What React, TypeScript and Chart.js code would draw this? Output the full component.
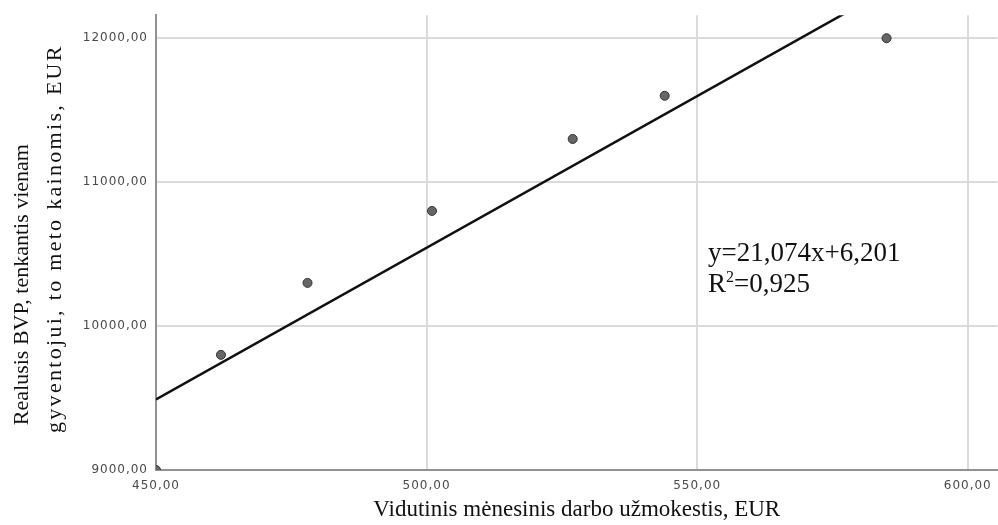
import React, { useEffect, useRef } from "react";
import { Chart, registerables } from "chart.js";

Chart.register(...registerables);

// Observed data (X: average monthly wage, EUR; Y: real GDP per capita, EUR)
const wageX = [450, 462, 478, 501, 527, 544, 585];
const gdpY = [9000, 9800, 10300, 10800, 11300, 11600, 12000];

// Fitted regression line (at both ends)
const fitX = [450, 580];
const fitY = [9490, 12230];

// Axis ranges and tick values
const xMin = 450;
const xMax = 605.5;
const xTicks = [450, 500, 550, 600];
const yMin = 9000;
const yMax = 12160;
const yTicks = [9000, 10000, 11000, 12000];

const xTitle = "Vidutinis mėnesinis darbo užmokestis, EUR";
const yTitleLines = ["Realusis BVP, tenkantis vienam", "gyventojui, to meto kainomis, EUR"];
const eqText = "y=21,074x+6,201";
const r2Value = "=0,925";
// annotation anchor (data coordinates)
const annX = 552;
const annY = 10450;

const fmt = (v: number) => v.toFixed(2).replace(".", ",");

const SERIF = "'Liberation Serif', 'Times New Roman', serif";
const SANS = "'DejaVu Sans', Verdana, sans-serif";

const spacingPlugin = {
  id: "tickSpacing",
  beforeDraw(chart: any) {
    (chart.ctx as any).letterSpacing = "1px";
  },
  afterDatasetsDraw(chart: any) {
    (chart.ctx as any).letterSpacing = "0px";
  },
};

const textPlugin = {
  id: "customText",
  afterDraw(chart: any) {
    const ctx = chart.ctx;
    const xs = chart.scales.x;
    const ys = chart.scales.y;
    const area = chart.chartArea;
    ctx.save();
    (ctx as any).letterSpacing = "0px";
    ctx.fillStyle = "#111";
    // X title
    ctx.font = `23px ${SERIF}`;
    ctx.textAlign = "center";
    ctx.textBaseline = "middle";
    ctx.fillText(xTitle, (area.left + area.right) / 2, 510);
    // Y title, two rotated lines
    ctx.font = `22px ${SERIF}`;
    const midY = (area.top + area.bottom) / 2;
    const cols = [22, 55];
    const centers = [midY + 42, midY - 4];
    const spacing = ["0px", "2.3px"];
    yTitleLines.forEach((t, i) => {
      ctx.save();
      (ctx as any).letterSpacing = spacing[i];
      ctx.translate(cols[i], centers[i]);
      ctx.rotate(-Math.PI / 2);
      ctx.fillText(t, 0, 0);
      ctx.restore();
    });
    // Equation annotation
    const ax = xs.getPixelForValue(annX);
    const ay = ys.getPixelForValue(annY);
    ctx.textAlign = "left";
    ctx.textBaseline = "alphabetic";
    ctx.font = `27px ${SERIF}`;
    ctx.fillText(eqText, ax, ay);
    const y2 = ay + 31;
    ctx.fillText("R", ax, y2);
    const rw = ctx.measureText("R").width;
    ctx.font = `16px ${SERIF}`;
    ctx.fillText("2", ax + rw, y2 - 10);
    const sw = ctx.measureText("2").width;
    ctx.font = `27px ${SERIF}`;
    ctx.fillText(r2Value, ax + rw + sw, y2);
    ctx.restore();
  },
};

export default function App() {
  const ref = useRef<HTMLCanvasElement | null>(null);
  useEffect(() => {
    document.body.style.margin = "0";
    const canvas = ref.current;
    if (!canvas) return;
    const chart = new Chart(canvas, {
      type: "scatter",
      data: {
        datasets: [
          {
            label: "fit",
            data: fitX.map((x, i) => ({ x, y: fitY[i] })),
            showLine: true,
            borderColor: "#111",
            borderWidth: 2.5,
            pointRadius: 0,
            clip: 0,
            order: 2,
          } as any,
          {
            label: "obs",
            data: wageX.map((x, i) => ({ x, y: gdpY[i] })),
            pointRadius: 4.5,
            pointBackgroundColor: "#666666",
            pointBorderColor: "#333333",
            pointBorderWidth: 1,
            clip: 0,
            order: 1,
          } as any,
        ],
      },
      options: {
        responsive: false,
        animation: false,
        events: [],
        layout: { padding: { top: 15, right: 0, left: 0, bottom: 0 } },
        plugins: {
          legend: { display: false },
          tooltip: { enabled: false },
        },
        scales: {
          x: {
            type: "linear",
            min: xMin,
            max: xMax,
            afterFit(scale: any) {
              scale.height = 55;
            },
            afterBuildTicks(scale: any) {
              scale.ticks = xTicks.map((value) => ({ value }));
            },
            ticks: {
              callback: (v: any) => fmt(Number(v)),
              font: { family: SANS, size: 12 },
              color: "#4a4a4a",
              padding: 9,
              maxRotation: 0,
              autoSkip: false,
            },
            grid: {
              drawTicks: false,
              lineWidth: 2,
              color: (c: any) => (c.tick && c.tick.value === xMin ? "rgba(0,0,0,0)" : "#dadada"),
            },
            border: { color: "#919191", width: 2 },
          },
          y: {
            type: "linear",
            min: yMin,
            max: yMax,
            afterFit(scale: any) {
              scale.width = 156;
            },
            afterBuildTicks(scale: any) {
              scale.ticks = yTicks.map((value) => ({ value }));
            },
            ticks: {
              callback: (v: any) => fmt(Number(v)),
              font: { family: SANS, size: 12 },
              color: "#4a4a4a",
              padding: 8,
              autoSkip: false,
            },
            grid: {
              drawTicks: false,
              lineWidth: 2,
              color: (c: any) => (c.tick && c.tick.value === yMin ? "rgba(0,0,0,0)" : "#dadada"),
            },
            border: { color: "#919191", width: 2 },
          },
        },
      },
      plugins: [spacingPlugin, textPlugin],
    });
    return () => chart.destroy();
  }, []);
  return (
    <div style={{ width: 998, height: 525, overflow: "hidden", background: "#fff" }}>
      <canvas ref={ref} width={1003} height={525} style={{ display: "block" }} />
    </div>
  );
}
